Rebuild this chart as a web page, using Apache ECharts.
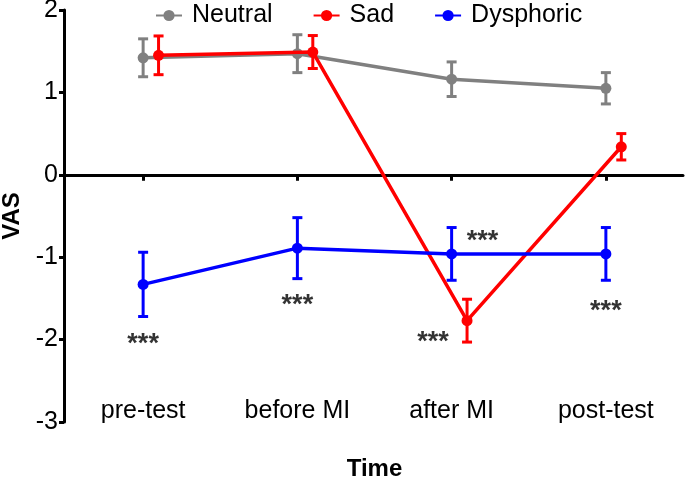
<!DOCTYPE html>
<html>
<head>
<meta charset="utf-8">
<script src="https://cdn.jsdelivr.net/npm/echarts@6/dist/echarts.min.js"></script>
<style>
html,body{margin:0;padding:0;background:#fff;}
#chart{width:685px;height:479px;}
</style>
</head>
<body>
<div id="chart"></div>
<script>
// ---- data ----
const categories = ['pre-test', 'before MI', 'after MI', 'post-test'];
const yTicks = [-3, -2, -1, 0, 1, 2];
const seriesNames = ['Neutral', 'Sad', 'Dysphoric'];
const neutralMean = [1.42, 1.47, 1.16, 1.05];
const neutralSE = [0.23, 0.23, 0.21, 0.19];
const sadMean = [1.45, 1.49, -1.77, 0.34];
const sadSE = [0.235, 0.20, 0.26, 0.16];
const dysMean = [-1.33, -0.89, -0.96, -0.96];
const dysSE = [0.39, 0.37, 0.32, 0.32];
// significance annotations: [category position, value]
const starText = '***';
const starPos = [[0, -1.98], [1, -1.50], [2.2, -0.73], [1.88, -1.95], [3, -1.58]];

// ---- chart ----
const colors = ['#808080', '#ff0000', '#0000ff'];
const offsets = [0, 0.1, 0];
const means = [neutralMean, sadMean, dysMean];
const ses = [neutralSE, sadSE, dysSE];
const FONT = 'Liberation Sans, Arial, sans-serif';

const series = [];
means.forEach((m, k) => {
  series.push({
    name: seriesNames[k],
    type: 'line',
    xAxisIndex: 2,
    data: m.map((v, i) => [i + offsets[k], v]),
    symbol: 'circle',
    symbolSize: 11,
    itemStyle: { color: colors[k] },
    lineStyle: { color: colors[k], width: 3.5 },
    z: 3 + k
  });
  series.push({
    name: seriesNames[k],
    type: 'custom',
    xAxisIndex: 2,
    data: m.map((v, i) => [i + offsets[k], v - ses[k][i], v + ses[k][i]]),
    renderItem: function (params, api) {
      const x = api.value(0);
      const lo = api.coord([x, api.value(1)]);
      const hi = api.coord([x, api.value(2)]);
      const w = 5;
      const st = { stroke: colors[k], lineWidth: 3, fill: 'none' };
      return {
        type: 'group',
        children: [
          { type: 'line', shape: { x1: lo[0], y1: lo[1], x2: hi[0], y2: hi[1] }, style: st },
          { type: 'line', shape: { x1: lo[0] - w, y1: lo[1], x2: lo[0] + w, y2: lo[1] }, style: st },
          { type: 'line', shape: { x1: hi[0] - w, y1: hi[1], x2: hi[0] + w, y2: hi[1] }, style: st }
        ]
      };
    },
    z: 3 + k
  });
});
series.push({
  type: 'scatter',
  xAxisIndex: 2,
  data: starPos,
  symbolSize: 0,
  silent: true,
  label: {
    show: true,
    position: 'inside',
    formatter: starText,
    color: '#000',
    fontFamily: FONT,
    fontWeight: 'bold',
    fontSize: 27,
    offset: [0, 7]
  },
  z: 10
});

const option = {
  animation: false,
  backgroundColor: '#fff',
  legend: {
    data: seriesNames,
    top: -2,
    left: 150,
    itemWidth: 26,
    itemHeight: 14,
    itemGap: 40,
    textStyle: { fontFamily: FONT, fontSize: 25, color: '#000', padding: [0, 0, 0, 5] }
  },
  grid: { left: 66, right: 2, top: 10, bottom: 57, outerBoundsMode: 'none', containLabel: false },
  xAxis: [
    {
      type: 'category',
      data: categories,
      position: 'bottom',
      axisLine: { show: false, onZero: false },
      axisTick: { show: false },
      axisLabel: { inside: true, margin: -2, fontFamily: FONT, fontSize: 25, color: '#000' },
      name: 'Time',
      nameLocation: 'middle',
      nameGap: 35,
      nameTextStyle: { fontFamily: FONT, fontSize: 24, fontWeight: 'bold', color: '#000' }
    },
    {
      type: 'category',
      data: categories,
      position: 'top',
      axisLine: { show: true, onZero: true, lineStyle: { color: '#000', width: 3 } },
      axisTick: { show: true, inside: true, length: 6, alignWithLabel: true, lineStyle: { color: '#000', width: 3 } },
      axisLabel: { show: false }
    },
    {
      type: 'value',
      min: -0.5,
      max: 3.5,
      show: false,
      axisLine: { onZero: false }
    }
  ],
  yAxis: {
    type: 'value',
    min: yTicks[0],
    max: yTicks[yTicks.length - 1],
    interval: 1,
    offset: 2,
    splitLine: { show: false },
    axisLine: { show: true, onZero: false, lineStyle: { color: '#000', width: 3 } },
    axisTick: { show: true, length: 5, lineStyle: { color: '#000', width: 3 } },
    axisLabel: { margin: 6, fontFamily: FONT, fontSize: 25, color: '#000' },
    name: 'VAS',
    nameLocation: 'middle',
    nameGap: 40,
    nameTextStyle: { fontFamily: FONT, fontSize: 24, fontWeight: 'bold', color: '#000' }
  },
  series: series
};

const chart = echarts.init(document.getElementById('chart'), null, { renderer: 'canvas' });
chart.setOption(option);
</script>
</body>
</html>
